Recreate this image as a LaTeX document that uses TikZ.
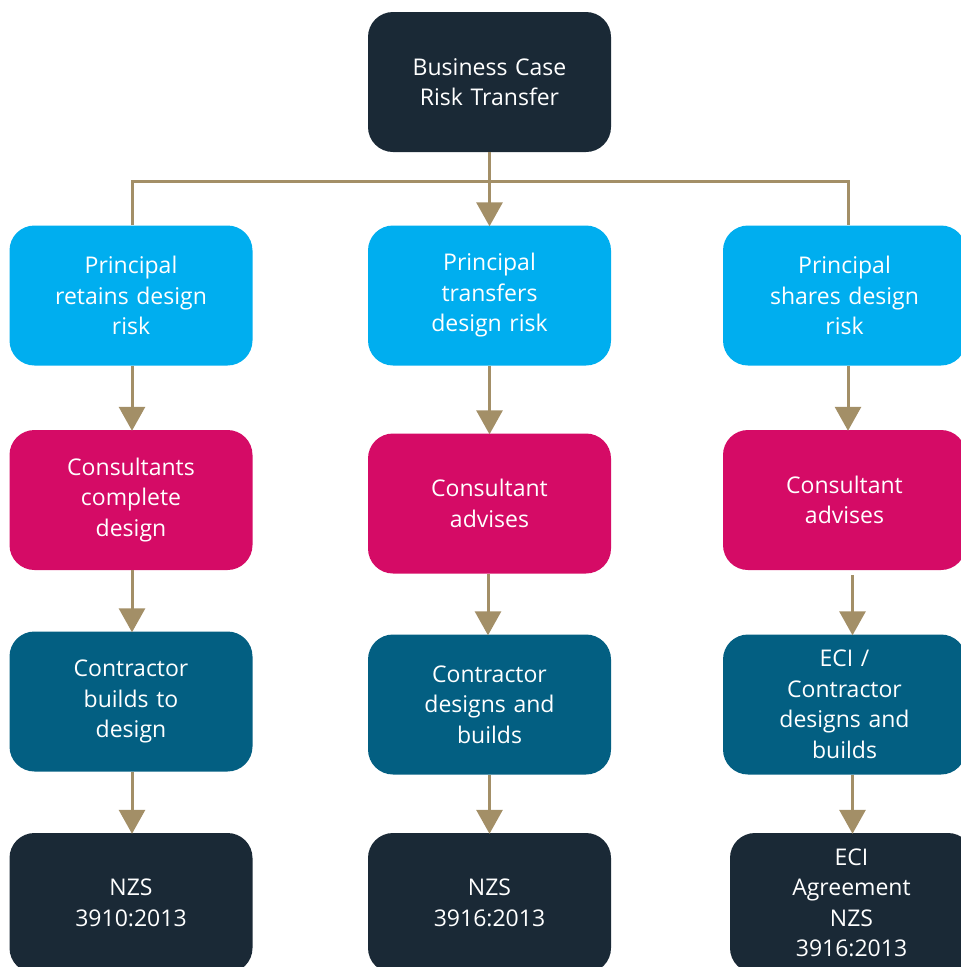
\documentclass[tikz,border=0pt]{standalone}
\usepackage{fontspec}
\setmainfont{Open Sans}
\usetikzlibrary{arrows.meta,calc}
\definecolor{navy}{HTML}{1A2936}
\definecolor{skyb}{HTML}{00AEEF}
\definecolor{mag}{HTML}{D50B66}
\definecolor{teal}{HTML}{035F82}
\definecolor{tan}{HTML}{A38F67}
\tikzset{
  box/.style={rounded corners=25pt, minimum width=243pt, minimum height=140pt,
    inner sep=0pt, text=white, align=center, text width=225pt,
    font=\fontsize{23}{30.5}\selectfont},
  navybox/.style={box, fill=navy},
  bluebox/.style={box, fill=skyb},
  magbox/.style={box, fill=mag},
  tealbox/.style={box, fill=teal},
  conn/.style={draw=tan, line width=3pt},
  arr/.style={conn, -{Triangle[width=26pt,length=24pt]}, shorten >=-1pt},
}
\begin{document}
\begin{tikzpicture}[x=1pt,y=-1pt]
\useasboundingbox (0,0) rectangle (961,967);
\clip (0,0) rectangle (961,967);
% nodes
\node[navybox] (top) at (489.5,82) {Business Case\\Risk Transfer\\[4pt]};
\node[bluebox] (l1) at (131,295.5) {Principal\\retains design\\risk};
\node[bluebox] (m1) at (489.5,295.5) {Principal\\transfers\\design risk\\[-4pt]};
\node[bluebox] (r1) at (844.5,295.5) {Principal\\shares design\\risk};
\node[magbox] (l2) at (131,500) {Consultants\\complete\\design};
\node[magbox] (m2) at (489.5,503.5) {Consultant\\advises};
\node[magbox] (r2) at (844.5,500) {Consultant\\advises};
\node[tealbox] (l3) at (131,701.5) {Contractor\\builds to\\design};
\node[tealbox] (m3) at (489.5,704.5) {Contractor\\designs and\\builds};
\node[tealbox] (r3) at (844.5,704.5) {ECI /\\Contractor\\designs and\\builds};
\node[navybox] (l4) at (131,903) {NZS\\3910:2013};
\node[navybox] (m4) at (489.5,903) {NZS\\3916:2013};
\node[navybox] (r4) at (851.5,903) {ECI\\Agreement\\NZS\\3916:2013};
% connectors
\coordinate (jn) at ($(top.south)+(0,29)$);
\draw[conn] ($(l1.north)+(1,0)$) |- (jn) -| ($(r1.north)+(3.5,0)$);
\draw[arr] (top.south) -- (m1.north);
\draw[arr] ($(l1.south)+(1,0)$) -- ($(l2.north)+(1,0)$);
\draw[arr] (m1.south) -- ($(m2.north)$);
\draw[arr] ($(r1.south)+(3.5,0)$) -- ($(r2.north)+(3.5,0)$);
\draw[arr] ($(l2.south)+(1,0)$) -- ($(l3.north)+(1,0)$);
\draw[arr] ($(m2.south)+(-1.5,0)$) -- ($(m3.north)+(-1.5,0)$);
\draw[arr] ($(r2.south)+(8,5)$) -- ($(r3.north)+(8,0)$);
\draw[arr] ($(l3.south)+(1,0)$) -- ($(l4.north)+(1,0)$);
\draw[arr] (m3.south) -- (m4.north);
\draw[arr] ($(r3.south)+(8,0)$) -- ($(r4.north)+(1,0)$);
\end{tikzpicture}
\end{document}
